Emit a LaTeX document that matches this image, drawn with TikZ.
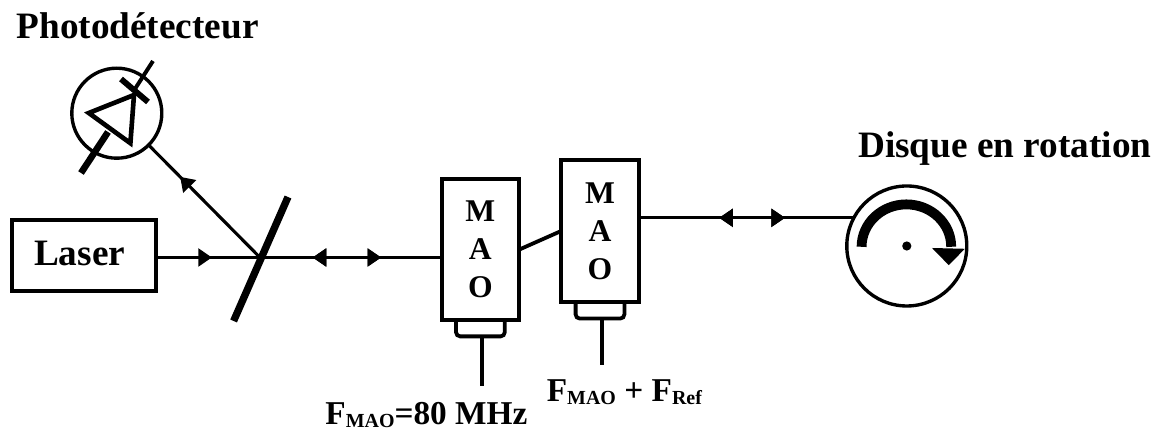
\documentclass[tikz,border=0pt]{standalone}
\usepackage{fontspec}
\setmainfont{Liberation Serif}
\usetikzlibrary{arrows.meta,decorations.markings}
\newcommand{\lowtxt}[1]{\raisebox{-1.7pt}{\fontsize{14.2}{16}\selectfont #1}}

\begin{document}
\begin{tikzpicture}[
  rig/.style={draw, line width=2.8pt, outer sep=0pt, inner sep=0pt},
  box/.style={rig, rectangle, minimum width=1.94cm, minimum height=3.54cm, align=center,
    font=\fontsize{22.5}{27}\bfseries\selectfont},
  round/.style={rig, circle, line width=2.4pt},
  beam/.style={line width=2.2pt},
  wire/.style={line width=2.7pt},
  title/.style={anchor=base, inner sep=0pt, font=\fontsize{26.5}{30}\bfseries\selectfont},
  freq/.style={anchor=base, inner sep=0pt, font=\fontsize{23.7}{26}\bfseries\selectfont},
  tip/.style={decoration={markings, mark=at position #1 with {\arrow{Triangle[length=3.4mm, width=4.4mm]}}}, postaction={decorate}},
  backtip/.style={decoration={markings, mark=at position #1 with {\arrowreversed{Triangle[length=3.4mm, width=4.4mm]}}}, postaction={decorate}}
]
\useasboundingbox (0,0) rectangle (29,10.75);

\node[rig, minimum width=3.59cm, minimum height=1.78cm] (laser) at (2.105,4.36) {};
\node[box] (maoa) at (12.01,4.51) {M\\A\\O};
\node[box] (maob) at (15.0,4.975) {M\\A\\O};
\node[round, minimum size=2.25cm] (det) at (2.92,7.92) {};
\node[round, minimum size=3cm] (disc) at (22.67,4.6) {};

\coordinate (split) at (6.5,4.3125);
\coordinate (beamend) at (6.875,4.3125);
\coordinate (mirtop) at (7.2,5.825);
\coordinate (mirbot) at (5.84,2.725);
\coordinate (stema) at (12.05,1.11);
\coordinate (stemb) at (15.05,1.625);

\node[title] (laserlabel) at (1.99,4.1) {Laser};
\node[title] (detlabel) at (3.44,9.775) {Photodétecteur};
\node[title] (disclabel) at (25.12,6.8) {Disque en rotation};
\node[freq] (freqa) at (10.66,0.125) {F\lowtxt{MAO}=80 MHz};
\node[freq] (freqb) at (15.61,0.7) {F\lowtxt{MAO} + F\lowtxt{Ref}};

% mirror
\draw[line width=5.2pt] (mirbot) -- (mirtop);

% beams
\draw[line width=2.8pt, tip=0.47] (laser.east |- split) -- (beamend);
\draw[beam, backtip=0.29, tip=0.667] (split) -- (split -| maoa.west);
\draw[beam, tip=0.72] (split) -- (det.-45);
\draw[wire] (maoa.east) -- (maob.west);
\draw[beam, backtip=0.374, tip=0.68] (disc.152 -| maob.east) -- (disc.152);

% photodiode
\draw[line width=3.3pt] (2.22,7.925) -- (3.35,8.375) -- (3.26,7.17) -- cycle;
\draw[line width=4.2pt] (3.025,8.775) -- (3.7,8.2);
\draw[line width=2.8pt] (3.325,8.45) -- (3.825,9.225);
\draw[line width=4.7pt] (2.025,6.425) -- (2.7,7.45);

% drivers
\draw[wire, rounded corners=3pt] ([xshift=-0.61cm]maoa.south) -- ++(0,-0.4) -- ++(1.22,0) -- ++(0,0.4);
\draw[wire, rounded corners=3pt] ([xshift=-0.61cm]maob.south) -- ++(0,-0.42) -- ++(1.22,0) -- ++(0,0.42);
\draw[wire] (stema |- 0,2.3) -- (stema);
\draw[wire] (stemb |- 0,2.75) -- (stemb);

% rotation
\draw[line width=7pt] (21.54,4.58) arc[start angle=180, end angle=0, x radius=1.12cm, y radius=1.06cm];
\fill (23.3,4.55) -- (24.12,4.53) -- (23.72,4.12) -- cycle;
\fill (22.67,4.6) circle (0.115);
\end{tikzpicture}
\end{document}
